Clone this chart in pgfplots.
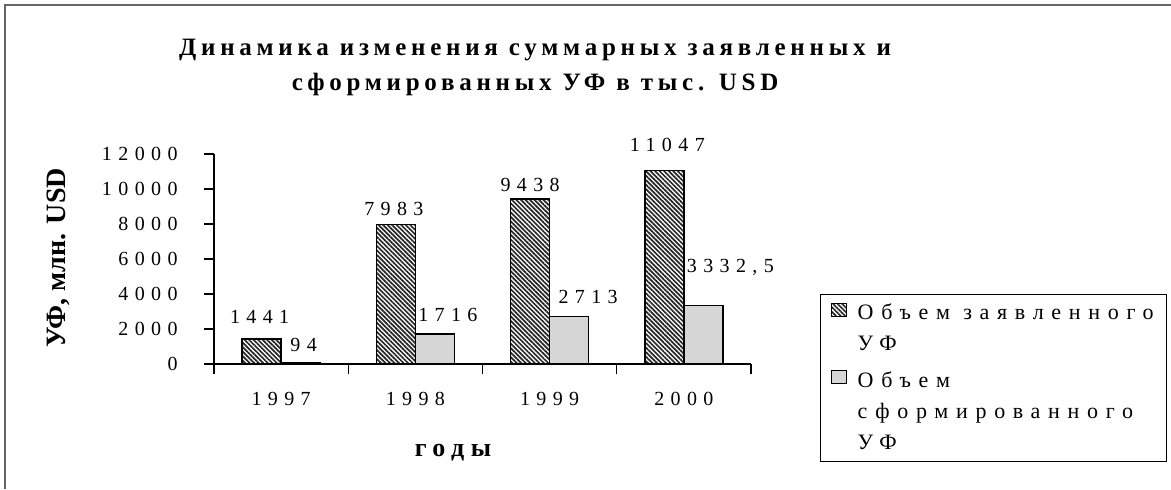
\documentclass[border=0pt]{standalone}
\usepackage{fontspec}
\setmainfont{Liberation Serif}[LetterSpace=32]
\newfontfamily\plainserif{Liberation Serif}
\usepackage{pgfplots}
\pgfplotsset{compat=1.18}
\usepackage{pgfplotstable}
\usetikzlibrary{patterns.meta}

\pgfplotstableread{
x y lab dx dy
0 1441 1441 -1 11
1 7983 7983 -1 7.5
2 9438 9438 0 7
3 11047 11047 1.5 13
}\declared
\pgfplotstableread{
x y lab dx dy
0 94 94 1.5 8.5
1 1716 1716 6.5 9.5
2 2713 2713 9.5 10
3 3332.5 3332,5 13.5 19
}\formed

\pgfplotsset{
  labelled/.style={
    nodes near coords,
    point meta=explicit symbolic,
    visualization depends on={\thisrow{dx} \as \dx},
    visualization depends on={\thisrow{dy} \as \dy},
    nodes near coords style={anchor=center, xshift=\dx pt, yshift=\dy pt,
      font=\fontsize{10}{11}\selectfont},
  },
  legA/.style={legend image code/.code={\draw[##1, line width=0.6pt] (0pt,6pt) rectangle (7.5pt,12.5pt);}},
  legB/.style={legend image code/.code={\draw[##1, line width=0.6pt] (0pt,14pt) rectangle (7.5pt,20.5pt);}},
}

\begin{document}
\begin{tikzpicture}
\path[use as bounding box] (-107pt,-62.5pt) rectangle (478.5pt,182pt);
\draw[black!60, line width=0.6pt] (-104.5pt,-62.5pt) -- (-104.5pt,179.5pt) -- (478.5pt,179.5pt);
\begin{axis}[
  at={(0,0)}, anchor=south west,
  scale only axis, width=268.5pt, height=105pt,
  ybar=0pt, bar width=19.5pt,
  xmin=-0.5, xmax=3.5, ymin=0, ymax=12000,
  axis x line*=bottom, axis y line*=left,
  axis line style={line width=0.6pt},
  tick align=outside,
  tick style={black, line width=0.6pt},
  major tick length=5pt,
  xtick={-0.5,0.5,1.5,2.5,3.5}, xticklabels={},
  extra x ticks={0,1,2,3}, extra x tick labels={1997,1998,1999,2000},
  extra x tick style={major tick length=0pt, xticklabel style={anchor=center, yshift=-17.5pt}},
  ytick={0,2000,4000,6000,8000,10000,12000},
  yticklabel style={anchor=east, inner sep=0pt, xshift=-13pt},
  scaled y ticks=false,
  /pgf/number format/.cd, assume math mode=true, set thousands separator={}, /pgfplots/.cd,
  tick label style={font=\fontsize{10}{11}\selectfont},
  title={Динамика изменения суммарных заявленных и\\сформированных УФ в тыс. USD},
  title style={at={(axis description cs:0.598,1.355)}, anchor=center, align=center,
    font=\bfseries\fontsize{12.5}{17.5}\selectfont\addfontfeatures{LetterSpace=19}},
  xlabel={годы},
  xlabel style={at={(axis description cs:0.445,-0.424)}, anchor=center,
    font=\bfseries\fontsize{13}{15}\selectfont\addfontfeatures{LetterSpace=25}},
  ylabel={УФ, млн. USD},
  ylabel style={at={(axis description cs:-0.2905,0.505)}, anchor=center,
    font=\plainserif\bfseries\fontsize{14}{16}\selectfont},
  legend style={at={(axis description cs:1.1285,0.333)}, anchor=north west,
    draw=black, line width=0.5pt, inner xsep=5pt, inner ysep=3pt,
    font=\fontsize{11}{15.5}\selectfont\addfontfeatures{LetterSpace=35}, row sep=6pt,
    column sep=4pt,
    nodes={inner sep=1.5pt, align=left}},
  legend cell align=left,
]
\addplot[draw=black, line width=0.8pt,
  pattern={Lines[angle=-45,distance=1.6pt,line width=0.85pt]}, pattern color=black!85,
  labelled, legA]
  table[x=x, y=y, meta=lab]{\declared};
\addlegendentry{Объем заявленного\\УФ}
\addplot[draw=black, line width=0.8pt, fill=black!16, labelled, legB]
  table[x=x, y=y, meta=lab]{\formed};
\addlegendentry{Объем\\сформированного\\УФ}
\end{axis}
\end{tikzpicture}
\end{document}
